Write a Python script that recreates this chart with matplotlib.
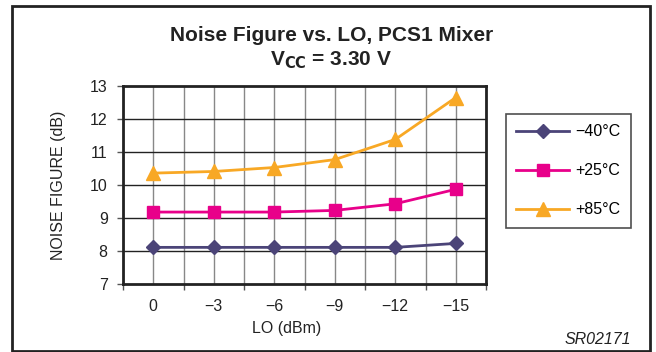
import matplotlib
matplotlib.use("Agg")
import matplotlib.pyplot as plt
from matplotlib.patches import Rectangle

plt.rcParams['font.family'] = ['Liberation Sans', 'DejaVu Sans']

lo_labels = ["0", "\u22123", "\u22126", "\u22129", "\u221212", "\u221215"]
nf_m40 = [8.11, 8.11, 8.11, 8.11, 8.11, 8.23]
nf_p25 = [9.18, 9.18, 9.18, 9.23, 9.43, 9.87]
nf_p85 = [10.36, 10.41, 10.53, 10.77, 11.38, 12.65]
series_labels = ["\u221240\u00b0C", "+25\u00b0C", "+85\u00b0C"]
colors = ["#4B4478", "#E8008A", "#F8A825"]
markers = ["D", "s", "^"]
msizes = [7.5, 9, 10]

W, H = 656, 352
FS = 11.5
fig = plt.figure(figsize=(W / 100, H / 100), dpi=100)
fig.patch.set_facecolor("white")


def fx(px):
    return px / W


def fy(py):
    return 1 - py / H


# outer frame
fig.add_artist(Rectangle((fx(12), fy(351)), (650 - 12) / W, (351 - 6) / H,
                         transform=fig.transFigure, fill=False,
                         edgecolor="#222222", linewidth=2.0))

ax_l, ax_r, ax_t, ax_b = 123, 486, 86, 284
ax = fig.add_axes([fx(ax_l), fy(ax_b), (ax_r - ax_l) / W, (ax_b - ax_t) / H])

x = list(range(len(lo_labels)))
for ys, lab, c, m, ms in zip([nf_m40, nf_p25, nf_p85], series_labels, colors, markers, msizes):
    ax.plot(x, ys, color=c, marker=m, markersize=ms, linewidth=2.0, label=lab,
            markeredgecolor=c, zorder=3, clip_on=False)

ax.set_xlim(-0.5, len(lo_labels) - 0.5)
ax.set_ylim(7, 13)
ax.set_yticks(range(7, 14))
ax.set_xticks(x)
ax.set_xticklabels(lo_labels)
bounds = [i - 0.5 for i in range(len(lo_labels) + 1)]
ax.set_xticks(bounds, minor=True)
ax.tick_params(axis="x", which="major", length=0, labelsize=FS, pad=11, colors="#222222")
ax.tick_params(axis="x", which="minor", length=4, width=1.0, color="#555555")
ax.tick_params(axis="y", which="major", length=4, width=1.0, color="#555555",
               labelsize=FS, pad=7, labelcolor="#222222")

for b in bounds + x:
    ax.axvline(b, color="#888888", linewidth=1.0, zorder=1)
for yv in range(8, 13):
    ax.axhline(yv, color="#222222", linewidth=1.0, zorder=1)

for s in ax.spines.values():
    s.set_linewidth(2.0)
    s.set_color("#222222")

fig.text(fx(58), fy(185), "NOISE FIGURE (dB)", rotation=90, ha="center", va="center",
         fontsize=FS, color="#222222")
fig.text(fx(287), fy(328), "LO (dBm)", ha="center", va="center", fontsize=FS, color="#222222")

fig.text(fx(332), fy(41), "Noise Figure vs. LO, PCS1 Mixer", ha="center", va="baseline",
         fontsize=15, fontweight="bold", color="#222222")
fig.text(fx(331), fy(65), r"V$_{\mathbf{CC}}$ = 3.30 V", ha="center", va="baseline",
         fontsize=15, fontweight="bold", color="#222222")
fig.text(fx(631), fy(344), "SR02171", ha="right", va="baseline", fontsize=FS,
         style="italic", color="#222222")

leg = ax.legend(loc="upper left", bbox_to_anchor=(fx(506), fy(114)),
                bbox_transform=fig.transFigure, frameon=True, fancybox=False,
                edgecolor="#222222", fontsize=FS, handlelength=3.3, labelspacing=1.5,
                borderpad=0.65, handletextpad=0.4, borderaxespad=0)
leg.get_frame().set_linewidth(1.2)

fig.savefig("out.png", dpi=100)
